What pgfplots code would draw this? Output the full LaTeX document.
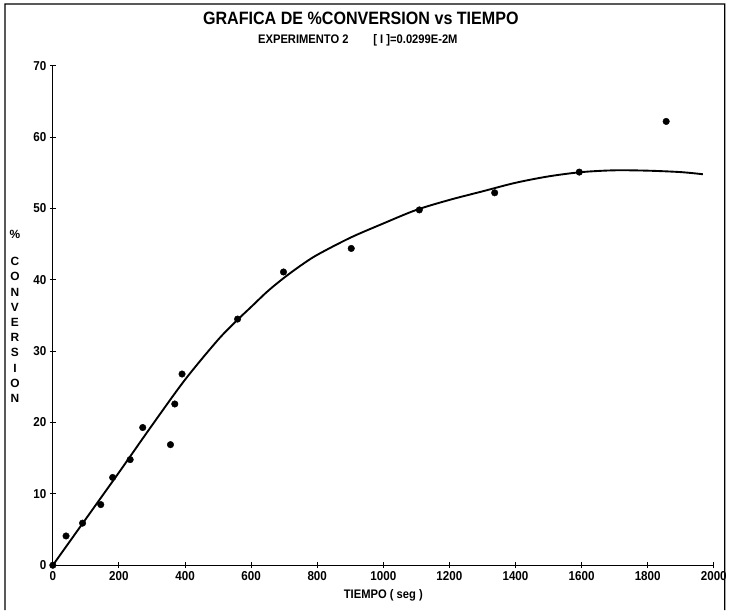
\documentclass[border=0pt]{standalone}
\usepackage{pgfplots}
\pgfplotsset{compat=1.18}
\usepackage{fontspec}
\setmainfont{Liberation Sans}
\newfontfamily\cond{Liberation Sans}[FakeStretch=0.9]
\usetikzlibrary{calc}

\begin{document}
\begin{tikzpicture}
\begin{axis}[
  scale only axis, width=663bp, height=501bp,
  xmin=0, xmax=2000, ymin=0, ymax=70,
  axis x line*=bottom, axis y line*=left,
  axis line style={line width=1.1pt,-},
  xtick={0,200,...,2000}, ytick={0,10,...,70},
  tick align=center, major tick length=6bp,
  tick style={line width=1pt,black},
  xticklabel={\cond\bfseries\fontsize{13}{15}\selectfont\pgfmathprintnumber[assume math mode=true,1000 sep={}]{\tick}},
  yticklabel={\cond\bfseries\fontsize{13}{15}\selectfont\pgfmathprintnumber[assume math mode=true,1000 sep={}]{\tick}},
  clip=false,
]
\addplot[smooth, line width=1.9pt, black, no marks] coordinates {
 (0,0) (100,6.5) (200,13.0) (300,19.6) (400,26.0) (500,31.6) (559,34.4)
 (600,36.2) (650,38.4) (700,40.3) (750,42.0) (800,43.5) (900,45.9)
 (1000,47.9) (1100,49.8) (1200,51.2) (1300,52.4) (1400,53.6) (1500,54.5)
 (1600,55.1) (1700,55.35) (1800,55.3) (1900,55.1) (1967,54.8)
};
\addplot[only marks, mark=*, mark size=3.3bp, black] coordinates {
 (0,0) (40,4.1) (90,5.9) (145,8.5) (181,12.3) (234,14.8) (272,19.3)
 (356,16.9) (369,22.6) (391,26.8) (559,34.5) (698,41.1) (903,44.4)
 (1109,49.8) (1337,52.2) (1593,55.1) (1856,62.2)
};
\coordinate (O) at (rel axis cs:0,0);
\coordinate (T) at (rel axis cs:1,1);
\end{axis}
\node[font=\cond\bfseries\fontsize{18}{21}\selectfont] at ($(O)!0.466!(O-|T)+(0,501bp+48bp)$) {GRAFICA DE \%CONVERSION vs TIEMPO};
\node[font=\cond\bfseries\fontsize{12.5}{14}\selectfont] at ($(O)!0.4615!(O-|T)+(0,501bp+26bp)$) {EXPERIMENTO 2\hspace{2em}[ I ]=0.0299E-2M};
\node[font=\bfseries\fontsize{12}{15.3}\selectfont, align=center, inner sep=0pt] at ($(O)+(-38bp,249.5bp)$) {\%\\[11.7bp]C\\O\\N\\V\\E\\R\\S\\I\\O\\N};
\node[font=\cond\bfseries\fontsize{12.5}{14}\selectfont] at ($(O)!0.5!(O-|T)+(0,-30bp)$) {TIEMPO ( seg )};
\draw[line width=1.2pt] ($(O)+(-48bp,-45bp)$) -- ($(O)+(-48bp,501bp+62bp)$) -- ($(T)+(11bp,62bp)$) -- ($(T)+(11bp,-501bp-45bp)$);
\useasboundingbox ($(O)+(-53bp,-42bp)$) rectangle ($(T)+(14bp,66bp)$);
\end{tikzpicture}
\end{document}
